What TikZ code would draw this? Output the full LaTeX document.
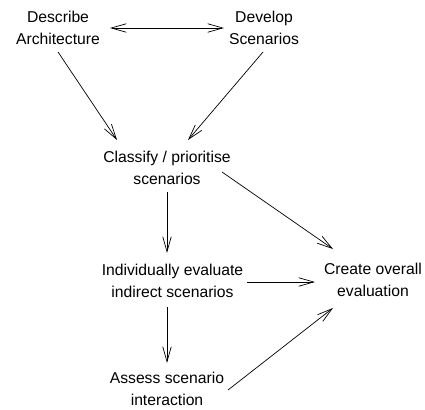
\documentclass[tikz,border=0pt]{standalone}
\usepackage{fontspec}
\setmainfont{Liberation Sans}
\usetikzlibrary{arrows.meta}
\tikzset{
  lbl/.style={align=center, inner sep=0pt, font=\fontsize{15.7}{22}\selectfont},
  arr/.style={line width=0.7pt, -{Straight Barb[length=15pt,width=8.5pt,line width=0.7pt]}},
  darr/.style={line width=0.7pt, {Straight Barb[length=15pt,width=8.5pt,line width=0.7pt]}-{Straight Barb[length=15pt,width=8.5pt,line width=0.7pt]}}
}
\begin{document}
\begin{tikzpicture}[x=1pt,y=1pt]
\useasboundingbox (0,0) rectangle (425,-409);
\node[lbl] (desc) at (58,-28) {Describe\\Architecture};
\node[lbl] (dev) at (264,-28) {Develop\\Scenarios};
\node[lbl] (cls) at (167,-168) {Classify / prioritise\\scenarios};
\node[lbl] (ind) at (172.5,-281) {Individually evaluate\\indirect scenarios};
\node[lbl] (cre) at (373,-280) {Create overall\\evaluation};
\node[lbl] (ass) at (167,-389) {Assess scenario\\interaction};
\draw[darr] ([xshift=52pt]desc.center) -- ([xshift=-40pt]dev.center);
\draw[arr] ([yshift=-24pt]desc.center) -- ([xshift=-50pt,yshift=28pt]cls.center);
\draw[arr] ([xshift=-1pt,yshift=-24pt]dev.center) -- ([xshift=21pt,yshift=28pt]cls.center);
\draw[arr] ([yshift=-24pt]cls.center) -- ([xshift=-5.5pt,yshift=28pt]ind.center);
\draw[arr] ([xshift=55pt,yshift=-4pt]cls.center) -- ([xshift=-40pt,yshift=31pt]cre.center);
\draw[arr] ([xshift=74.5pt,yshift=-1pt]ind.center) -- ([xshift=-58pt,yshift=-2pt]cre.center);
\draw[arr] ([xshift=-5.5pt,yshift=-26pt]ind.center) -- ([yshift=26pt]ass.center);
\draw[arr] ([xshift=61pt,yshift=-1pt]ass.center) -- ([xshift=-40pt,yshift=-28pt]cre.center);
\end{tikzpicture}
\end{document}
